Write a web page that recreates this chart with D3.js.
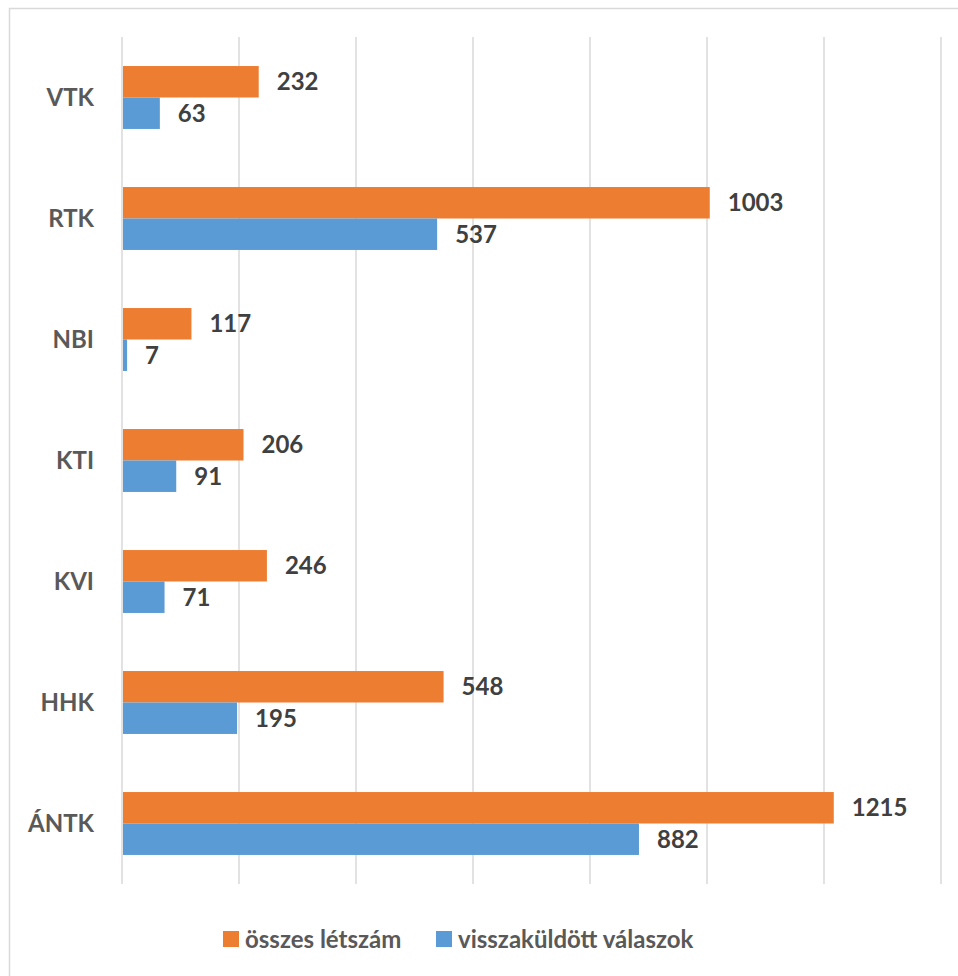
<!DOCTYPE html>
<html>
<head>
<meta charset="utf-8">
<script src="https://cdn.jsdelivr.net/npm/d3@7"></script>
<style>
body { margin: 0; background: #fff; }
svg { display: block; font-family: Lato, "Open Sans", sans-serif; }
</style>
</head>
<body>
<svg></svg>
<script>
// categories top to bottom
var categories = ["VTK", "RTK", "NBI", "KTI", "KVI", "HHK", "ÁNTK"];
var osszes = [232, 1003, 117, 206, 246, 548, 1215];
var visszakuldott = [63, 537, 7, 91, 71, 195, 882];
var seriesNames = ["összes létszám", "visszaküldött válaszok"];
var colors = ["#ed7d31", "#5b9bd5"];
var xTicks = [0, 200, 400, 600, 800, 1000, 1200, 1400];

var svgWidth = 958, svgHeight = 976;
var plotLeft = 122, plotRight = 941, plotTop = 37, plotBottom = 884;

var svg = d3.select("svg")
  .attr("width", svgWidth)
  .attr("height", svgHeight);

// chart border
svg.append("rect")
  .attr("x", 9.5).attr("y", 8.5)
  .attr("width", 960).attr("height", 990)
  .attr("fill", "none").attr("stroke", "#d9d9d9").attr("stroke-width", 1.5);

var x = d3.scaleLinear().domain([0, 1400]).range([plotLeft, plotRight]);
var y = d3.scaleBand().domain(categories).range([plotTop, plotBottom])
  .paddingInner(0.48).paddingOuter(0.24);
var sub = d3.scaleBand().domain([0, 1]).range([0, y.bandwidth()]);

// gridlines
svg.selectAll(".grid")
  .data(xTicks)
  .enter().append("line")
  .attr("x1", function(d) { return x(d); })
  .attr("x2", function(d) { return x(d); })
  .attr("y1", plotTop).attr("y2", plotBottom)
  .attr("stroke", "#d9d9d9").attr("stroke-width", 1.5);

var rows = categories.map(function(c, i) {
  return { cat: c, vals: [osszes[i], visszakuldott[i]] };
});

var g = svg.selectAll(".row")
  .data(rows)
  .enter().append("g")
  .attr("transform", function(d) { return "translate(0," + y(d.cat) + ")"; });

g.selectAll("rect")
  .data(function(d) { return d.vals; })
  .enter().append("rect")
  .attr("x", x(0) + 1)
  .attr("y", function(d, i) { return sub(i); })
  .attr("width", function(d) { return x(d) - x(0); })
  .attr("height", sub.bandwidth())
  .attr("fill", function(d, i) { return colors[i]; });

g.selectAll("text.val")
  .data(function(d) { return d.vals; })
  .enter().append("text")
  .attr("class", "val")
  .attr("x", function(d) { return x(d) + 19; })
  .attr("y", function(d, i) { return sub(i) + sub.bandwidth() / 2; })
  .attr("dy", "0.36em")
  .attr("font-size", 24).attr("font-weight", "bold")
  .attr("fill", "#404040")
  .text(function(d) { return d; });

// category labels
svg.selectAll(".cat")
  .data(categories)
  .enter().append("text")
  .attr("x", 94)
  .attr("y", function(d) { return y(d) + y.bandwidth() / 2; })
  .attr("dy", "0.36em")
  .attr("text-anchor", "end")
  .attr("font-size", 24).attr("font-weight", "bold")
  .attr("fill", "#595959")
  .text(function(d) { return d; });

// legend
var legendX = [223, 436];
var lg = svg.selectAll(".legend")
  .data(seriesNames)
  .enter().append("g")
  .attr("transform", function(d, i) { return "translate(" + legendX[i] + ",931)"; });
lg.append("rect")
  .attr("width", 16).attr("height", 16)
  .attr("fill", function(d, i) { return colors[i]; });
lg.append("text")
  .attr("x", 22).attr("y", 8).attr("dy", "0.36em")
  .attr("font-size", 24).attr("font-weight", "bold")
  .attr("fill", "#595959")
  .text(function(d) { return d; });
</script>
</body>
</html>
